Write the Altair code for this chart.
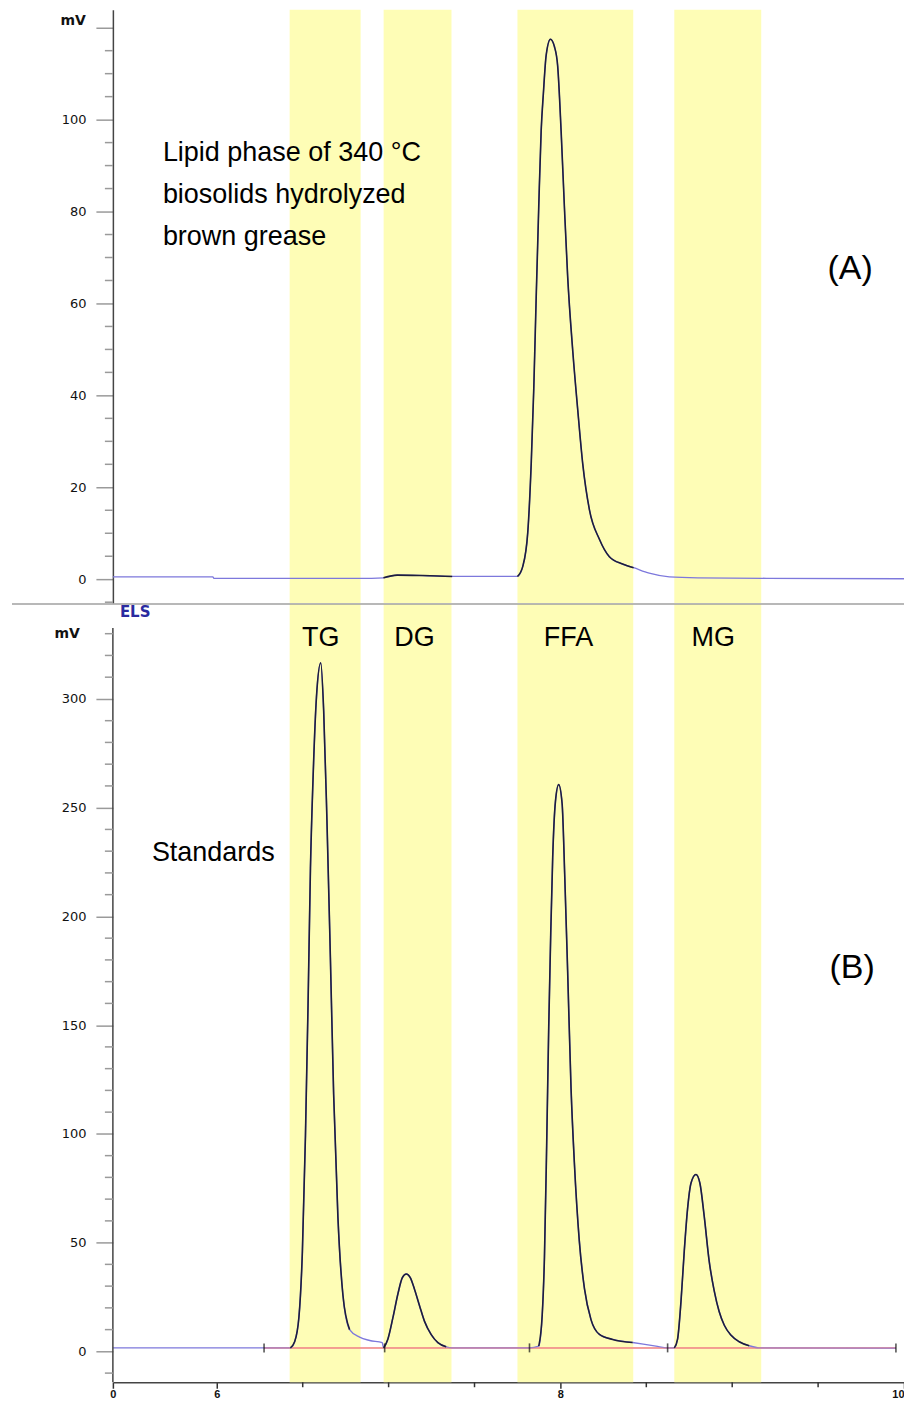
import altair as alt
import pandas as pd

# ---------------- data ----------------
band_names = ["TG", "DG", "FFA", "MG"]
band_start = [6.424, 6.971, 7.750, 8.663]
band_end = [6.837, 7.366, 8.424, 9.169]
band_label_t = [6.605, 7.151, 8.047, 8.890]

# (A) lipid phase trace
t_a = [5.395, 5.977, 5.983, 6.90, 6.97, 7.05, 7.20, 7.37, 7.60, 7.750, 7.781, 7.810,
       7.830, 7.845, 7.859, 7.874, 7.888, 7.901, 7.917, 7.942, 7.965, 7.984, 8.004,
       8.023, 8.042, 8.072, 8.101, 8.130, 8.169, 8.227, 8.285, 8.362, 8.426, 8.517,
       8.634, 8.80, 9.20, 10.0]
v_a = [0.5, 0.5, 0.2, 0.2, 0.3, 0.9, 0.8, 0.6, 0.6, 0.6, 2.8, 10.2,
       25.1, 41.5, 61.3, 81.2, 97.6, 105.8, 114.0, 117.5, 115.9, 111.7, 97.6,
       81.2, 66.0, 49.6, 36.8, 25.1, 15.1, 8.7, 4.9, 3.3, 2.5, 1.3,
       0.5, 0.3, 0.2, 0.1]
dark_a = [(6.97, 7.37), (7.75, 8.45)]

# (B) standards trace
t_b = [5.395, 6.428, 6.453, 6.478, 6.498, 6.516, 6.531, 6.545, 6.560, 6.580, 6.605,
       6.622, 6.641, 6.661, 6.680, 6.705, 6.734, 6.773, 6.831, 6.890, 6.963, 6.971,
       6.996, 7.025, 7.054, 7.080, 7.103, 7.126, 7.151, 7.180, 7.209, 7.248, 7.287,
       7.335, 7.370, 7.820, 7.874, 7.894, 7.907, 7.920, 7.932, 7.944, 7.955, 7.971,
       7.990, 8.010, 8.025, 8.042, 8.062, 8.081, 8.110, 8.140, 8.178, 8.227, 8.304,
       8.420, 8.556, 8.624, 8.663, 8.682, 8.702, 8.721, 8.740, 8.760, 8.789, 8.812,
       8.837, 8.866, 8.895, 8.924, 8.954, 8.992, 9.041, 9.099, 9.157, 9.953]
v_b = [1.6, 1.6, 4.4, 15.8, 45.7, 99.3, 159.1, 222.1, 263.1, 300.9, 316.6,
       294.6, 244.2, 181.2, 118.2, 61.5, 25.9, 10.0, 6.5, 5.0, 4.0, 1.6,
       5.7, 15.5, 26.4, 33.9, 35.6, 33.9, 28.5, 21.0, 13.8, 7.7, 4.0,
       2.1, 1.6, 1.6, 2.4, 16.6, 43.0, 94.8, 149.2, 193.3, 226.9, 252.8,
       260.6, 251.8, 219.2, 175.1, 120.7, 87.1, 50.8, 28.8, 14.6, 7.8, 5.5,
       4.1, 2.4, 1.6, 1.6, 5.6, 23.1, 46.2, 65.4, 77.3, 81.3, 77.3,
       62.2, 41.5, 27.9, 18.3, 12.0, 7.5, 4.4, 2.6, 1.6, 1.5]
dark_b = [(6.428, 6.775), (6.971, 7.34), (7.874, 8.42), (8.663, 9.10)]
marker_t = [6.275, 6.977, 7.820, 8.624, 9.953]
baseline_b = 1.6
pink_start = [6.275]
pink_end = [9.953]

x_ticks = [5.395, 6, 8, 10]
x_minor = [6.5, 7, 7.5, 8.5, 9, 9.5]
ya_major = [0, 20, 40, 60, 80, 100, 120]
ya_minor = [-5, 5, 10, 15, 25, 30, 35, 45, 50, 55, 65, 70, 75, 85, 90, 95, 105, 110, 115]
yb_major = [0, 50, 100, 150, 200, 250, 300]
yb_minor = [-10, 10, 20, 30, 40, 60, 70, 80, 90, 110, 120, 130, 140, 160, 170, 180, 190,
            210, 220, 230, 240, 260, 270, 280, 290, 310, 320, 330]

XDOM = [5.395, 10.0]
YA_DOM = [-5.2, 123.9]
YB_DOM = [-14.2, 343.6]
YB_AXIS_TOP = 332.6
W = 792
HA = 594
HB = 779

BLUE = "#7d78dc"
DARK = "#1d1d3c"
YELLOW = "#fefdb6"
FONT = "Liberation Sans"


def trace_df(t, v, windows):
    rows = []
    for ti, vi in zip(t, v):
        seg = -1
        for k, (a, b) in enumerate(windows):
            if a <= ti <= b:
                seg = k
        rows.append({"t": ti, "v": vi, "seg": seg})
    return pd.DataFrame(rows)


bands = pd.DataFrame({"name": band_names, "start": band_start, "end": band_end, "lt": band_label_t})
da = trace_df(t_a, v_a, dark_a)
db = trace_df(t_b, v_b, dark_b)

xs = alt.Scale(domain=XDOM, nice=False, zero=False)
ysa = alt.Scale(domain=YA_DOM, nice=False, zero=False)
ysb = alt.Scale(domain=YB_DOM, nice=False, zero=False)

yaxis_common = dict(
    title=None, grid=False, tickSize=17, tickColor="#9a9a9a", tickWidth=1.5,
    labelPadding=10, labelFont="DejaVu Sans", labelFontSize=13, labelColor="#111",
    domainColor="#444", domainWidth=1.5, minExtent=105, maxExtent=105,
)

# ---------------- panel A ----------------
band_a = alt.Chart(bands).mark_rect(color=YELLOW).encode(
    x=alt.X("start:Q", scale=xs, axis=None), x2="end:Q"
)
line_a = alt.Chart(da).mark_line(color=BLUE, strokeWidth=1.3, interpolate="monotone").encode(
    x=alt.X("t:Q", scale=xs, axis=None),
    y=alt.Y("v:Q", scale=ysa, axis=alt.Axis(
        values=ya_major, labelExpr="datum.value >= 120 ? '' : datum.label", **yaxis_common)),
)
dark_line_a = alt.Chart(da).transform_filter("datum.seg >= 0").mark_line(
    color=DARK, strokeWidth=1.6, interpolate="monotone").encode(
    x=alt.X("t:Q", scale=xs), y=alt.Y("v:Q", scale=ysa), detail="seg:N"
)
minor_a = alt.Chart(pd.DataFrame({"v": ya_minor})).mark_rule(color="#9a9a9a", strokeWidth=1.5).encode(
    y=alt.Y("v:Q", scale=ysa), x=alt.value(-8), x2=alt.value(0)
)
mv_a = alt.Chart(pd.DataFrame({"v": [120], "s": ["mV"]})).mark_text(
    align="right", baseline="middle", dx=-27, dy=-7, font="DejaVu Sans", fontSize=14,
    fontWeight="bold", color="#111").encode(
    x=alt.value(0), y=alt.Y("v:Q", scale=ysa), text="s:N"
)
txt_a = alt.Chart(pd.DataFrame({"a": [0]})).mark_text(
    align="left", baseline="top", font=FONT, fontSize=27, lineHeight=42, color="#000"
).encode(
    x=alt.datum(5.686, scale=xs), y=alt.datum(95.5, scale=ysa),
    text=alt.value(["Lipid phase of 340 °C", "biosolids hydrolyzed", "brown grease"]),
)
lab_a = alt.Chart(pd.DataFrame({"a": [0]})).mark_text(
    align="center", baseline="middle", font=FONT, fontSize=34, color="#000"
).encode(x=alt.datum(9.686, scale=xs), y=alt.datum(67.4, scale=ysa), text=alt.value("(A)"))

top = alt.layer(band_a, line_a, dark_line_a, minor_a, mv_a, txt_a, lab_a).properties(
    width=W, height=HA)

# ---------------- panel B ----------------
band_b = alt.Chart(bands).mark_rect(color=YELLOW).encode(
    x=alt.X("start:Q", scale=xs), x2="end:Q"
)
sep = alt.Chart(pd.DataFrame({"a": [0]})).mark_rule(color="#a0a0a0", strokeWidth=1.5).encode(
    x=alt.value(-101), x2=alt.value(W), y=alt.value(0)
)
pink = alt.Chart(pd.DataFrame({"s": pink_start, "e": pink_end, "b": [baseline_b]})).mark_rule(
    color="#f08a8a", strokeWidth=1.5).encode(
    x=alt.X("s:Q", scale=xs), x2="e:Q", y=alt.Y("b:Q", scale=ysb)
)
line_b = alt.Chart(db).mark_line(color=BLUE, strokeWidth=1.4, interpolate="monotone").encode(
    x=alt.X("t:Q", scale=xs, axis=alt.Axis(
        values=x_ticks, title=None, grid=False, tickSize=6, tickColor="#333", tickWidth=1.5,
        labelExpr="datum.value < 5.9 ? '0' : format(datum.value, 'd')",
        labelFlush=False,
        labelAlign={"expr": "datum.value > 9.9 ? 'right' : 'center'"},
        labelFont=FONT, labelFontSize=11, labelFontWeight="bold", labelColor="#111",
        labelPadding=0, domainColor="#444", domainWidth=1.5)),
    y=alt.Y("v:Q", scale=ysb, axis=alt.Axis(
        values=yb_major, domain=False, **yaxis_common)),
)
pink_over = alt.Chart(pd.DataFrame({"s": pink_start, "e": pink_end, "b": [baseline_b]})).mark_rule(
    color="#f08a8a", strokeWidth=1.2, opacity=0.45).encode(
    x=alt.X("s:Q", scale=xs), x2="e:Q", y=alt.Y("b:Q", scale=ysb)
)
dark_line_b = alt.Chart(db).transform_filter("datum.seg >= 0").mark_line(
    color=DARK, strokeWidth=1.6, interpolate="monotone").encode(
    x=alt.X("t:Q", scale=xs), y=alt.Y("v:Q", scale=ysb), detail="seg:N"
)
markers = alt.Chart(pd.DataFrame({"t": marker_t, "b": [baseline_b] * len(marker_t)})).mark_tick(
    orient="vertical", size=9, thickness=1.6, color="#111").encode(
    x=alt.X("t:Q", scale=xs), y=alt.Y("b:Q", scale=ysb)
)
yaxis_line_b = alt.Chart(pd.DataFrame({"lo": [YB_DOM[0]], "hi": [YB_AXIS_TOP]})).mark_rule(
    color="#444", strokeWidth=1.5).encode(
    x=alt.value(0), y=alt.Y("lo:Q", scale=ysb), y2="hi:Q"
)
minor_b = alt.Chart(pd.DataFrame({"v": yb_minor})).mark_rule(color="#9a9a9a", strokeWidth=1.5).encode(
    y=alt.Y("v:Q", scale=ysb), x=alt.value(-8), x2=alt.value(0)
)
minor_x = alt.Chart(pd.DataFrame({"t": x_minor})).mark_rule(color="#333", strokeWidth=1.5).encode(
    x=alt.X("t:Q", scale=xs), y=alt.value(HB), y2=alt.value(HB + 5)
)
mv_b = alt.Chart(pd.DataFrame({"v": [330], "s": ["mV"]})).mark_text(
    align="right", baseline="middle", dx=-33, font="DejaVu Sans", fontSize=14,
    fontWeight="bold", color="#111").encode(
    x=alt.value(0), y=alt.Y("v:Q", scale=ysb), text="s:N"
)
els = alt.Chart(pd.DataFrame({"a": [0]})).mark_text(
    align="left", baseline="middle", font="DejaVu Sans", fontSize=15, fontWeight="bold",
    color="#2a2aa0").encode(x=alt.value(7), y=alt.value(8), text=alt.value("ELS"))
band_labels = alt.Chart(bands).mark_text(
    align="center", baseline="middle", font=FONT, fontSize=27, color="#000").encode(
    x=alt.X("lt:Q", scale=xs), y=alt.datum(328, scale=ysb), text="name:N"
)
std = alt.Chart(pd.DataFrame({"a": [0]})).mark_text(
    align="left", baseline="middle", font=FONT, fontSize=27, color="#000"
).encode(x=alt.datum(5.622, scale=xs), y=alt.datum(229.2, scale=ysb), text=alt.value("Standards"))
lab_b = alt.Chart(pd.DataFrame({"a": [0]})).mark_text(
    align="center", baseline="middle", font=FONT, fontSize=34, color="#000"
).encode(x=alt.datum(9.698, scale=xs), y=alt.datum(176.4, scale=ysb), text=alt.value("(B)"))

bottom = alt.layer(
    band_b, sep, pink, line_b, pink_over, dark_line_b, markers, yaxis_line_b, minor_b,
    minor_x, mv_b, els, band_labels, std, lab_b
).properties(width=W, height=HB)

chart = alt.vconcat(top, bottom, spacing=0).properties(
    padding={"left": 0, "top": 1, "right": -3, "bottom": 0}
).configure_view(stroke=None)

chart.save("out.html", embed_options={"renderer": "svg", "actions": False})
